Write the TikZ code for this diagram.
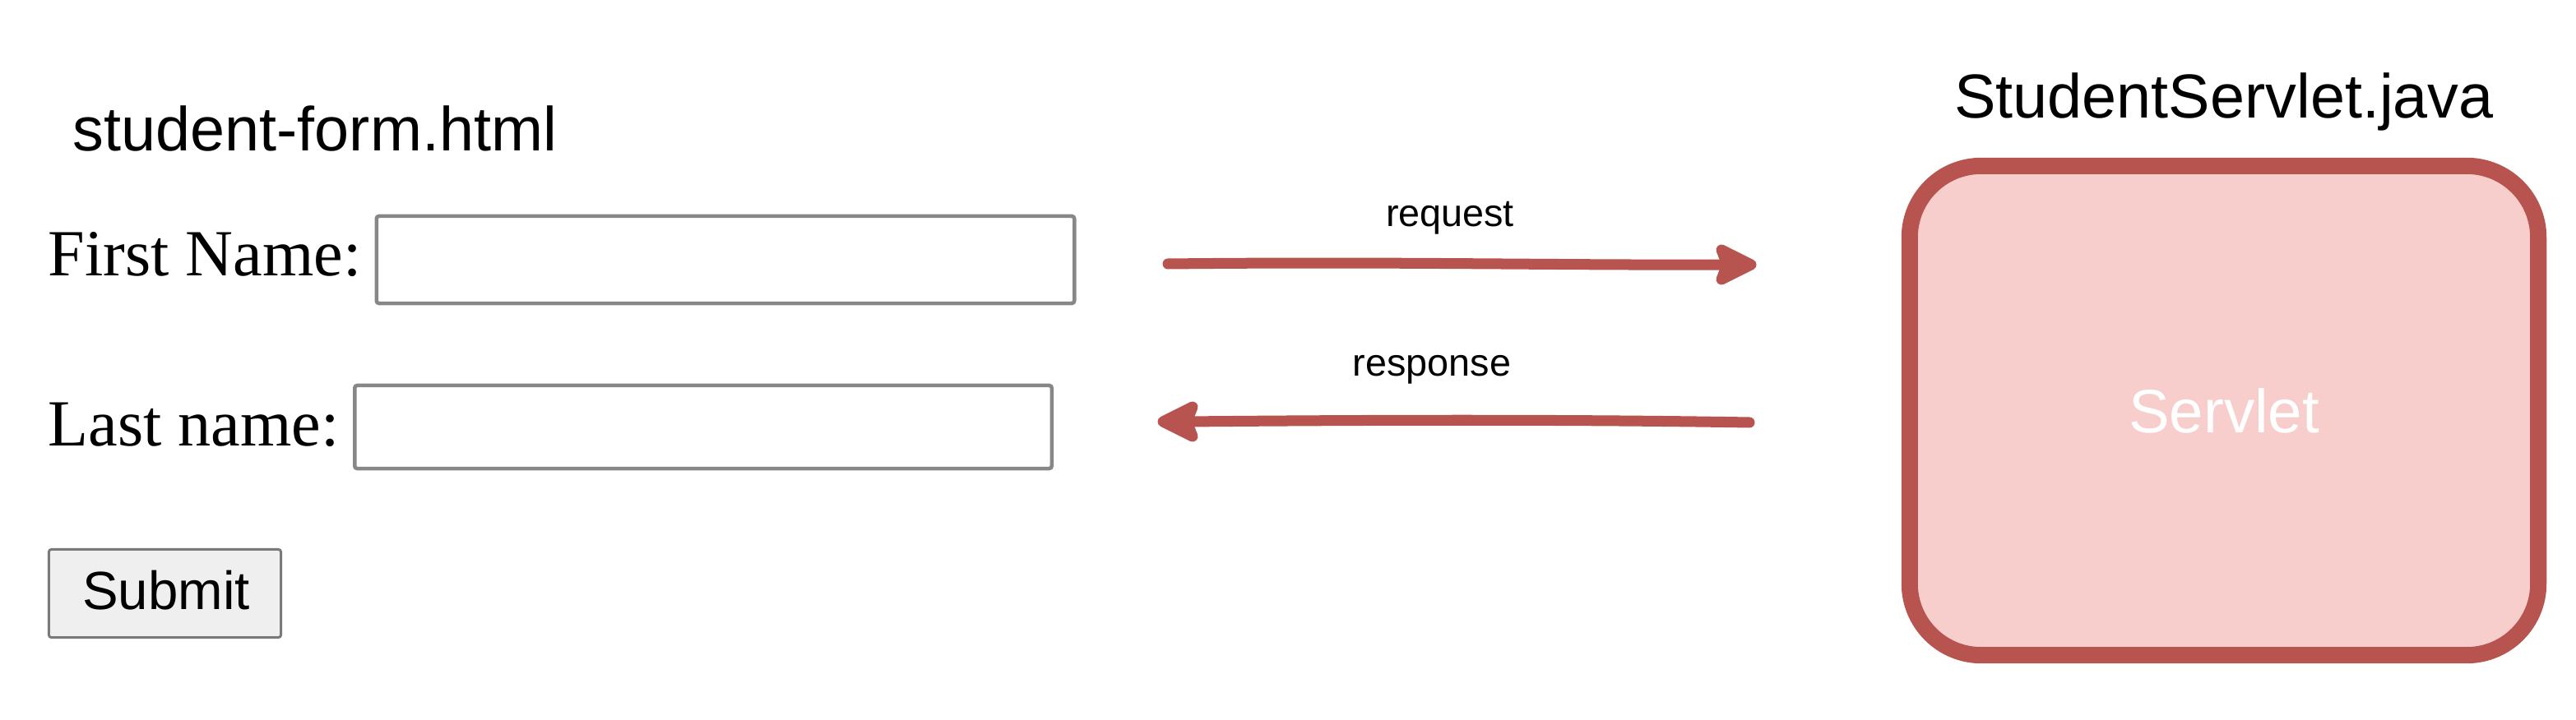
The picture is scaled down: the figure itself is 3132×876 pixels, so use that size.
\documentclass[tikz,border=0pt]{standalone}
\usepackage{fontspec}
\setmainfont{Liberation Sans}
\newfontfamily\formserif{Liberation Serif}
\definecolor{arrowred}{HTML}{B85450}
\definecolor{servfill}{HTML}{F8CECC}
\definecolor{inputgray}{HTML}{878787}
\definecolor{btngray}{HTML}{7A7A7A}
\definecolor{btnfill}{HTML}{EFEFEF}
\tikzset{
  txt/.style={inner sep=0pt, anchor=base},
  title/.style={txt, font=\fontsize{21.5}{25}\selectfont},
  arrowlabel/.style={txt, font=\fontsize{13.3}{16}\selectfont},
  formlabel/.style={inner sep=0pt, anchor=base west, font=\formserif\fontsize{22.8}{27}\selectfont},
  inputbox/.style={draw=inputgray, line width=0.045cm, rounded corners=0.03cm, inner sep=0pt},
  buttonbox/.style={draw=btngray, fill=btnfill, line width=0.03cm, rounded corners=0.03cm, inner sep=0pt},
  servletbox/.style={draw=arrowred, fill=servfill, line width=0.2cm, rounded corners=0.87cm, inner sep=0pt,
    minimum width=7.64cm, minimum height=5.95cm, text=white, font=\fontsize{21.2}{25}\selectfont},
  flow/.style={draw=arrowred, line width=0.13cm, line cap=round, line join=round},
  flowhead/.style={draw=arrowred, fill=arrowred, line width=0.13cm, line join=round}
}
\begin{document}
\begin{tikzpicture}[x=0.01cm, y=-0.01cm]
\useasboundingbox (0,0) rectangle (3132,876);
% form
\node[title, anchor=base west] (formtitle) at (88,184) {student-form.html};
\node[formlabel] (firstlabel) at (58,335) {First Name:};
\node[inputbox, minimum width=8.48cm, minimum height=1.06cm] (firstbox) at (882,316) {};
\node[formlabel] (lastlabel) at (58,542) {Last name:};
\node[inputbox, minimum width=8.47cm, minimum height=1.01cm] (lastbox) at (855,519.5) {};
\node[buttonbox, minimum width=2.82cm, minimum height=1.07cm] (submit) at (200.5,722) {};
\node[txt, font=\fontsize{18.6}{22}\selectfont] (submittext) at (202,741) {Submit};
% servlet
\node[title] (servtitle) at (2704,144) {StudentServlet.java};
\node[servletbox, text depth=0pt] (servlet) at (2704,499.5) {Servlet};
% arrows
\coordinate (reqstart) at (1420,321);
\coordinate (reqback) at (2100,322);
\coordinate (reqtip) at (2129,322);
\draw[flow] (reqstart) .. controls (1700,318) and (1900,323) .. (reqback);
\draw[flowhead] (2093,304) -- (reqtip) -- (2093,340) -- (reqback) -- cycle;
\node[arrowlabel] (reqlabel) at (1763,275) {request};

\coordinate (resstart) at (2127,514);
\coordinate (resback) at (1443,513);
\coordinate (restip) at (1414,513);
\draw[flow] (resstart) .. controls (1900,510) and (1650,511) .. (resback);
\draw[flowhead] (1450,495) -- (restip) -- (1450,531) -- (resback) -- cycle;
\node[arrowlabel] (reslabel) at (1741,458) {response};
\end{tikzpicture}
\end{document}
